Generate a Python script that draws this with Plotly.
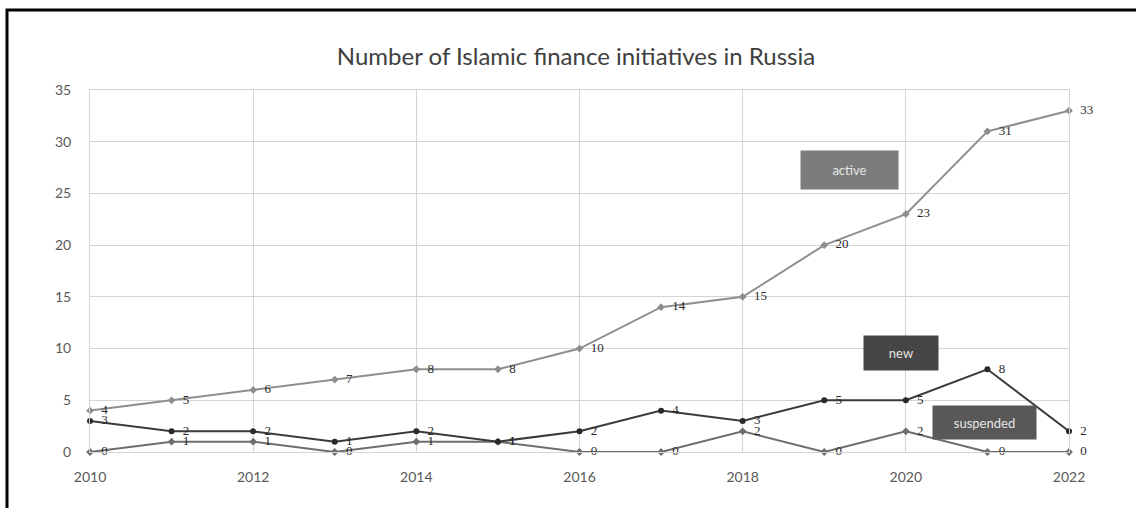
import plotly.graph_objects as go

years = list(range(2010, 2023))
active = [4, 5, 6, 7, 8, 8, 10, 14, 15, 20, 23, 31, 33]
new = [3, 2, 2, 1, 2, 1, 2, 4, 3, 5, 5, 8, 2]
suspended = [0, 1, 1, 0, 1, 1, 0, 0, 2, 0, 2, 0, 0]
y_ticks = [0, 5, 10, 15, 20, 25, 30, 35]
x_ticks = [2010, 2012, 2014, 2016, 2018, 2020, 2022]

label_font = dict(family="Liberation Serif", size=13, color="#2a2a2a")

def lbl(vals):
    return ["  " + str(v) for v in vals]

fig = go.Figure()
fig.add_trace(go.Scatter(
    x=years, y=active, mode="lines+markers+text", name="active",
    line=dict(color="#8e8e8e", width=2),
    marker=dict(symbol="diamond", size=6, color="#8e8e8e"),
    text=lbl(active), textposition="middle right",
    textfont=label_font, cliponaxis=False))
fig.add_trace(go.Scatter(
    x=years, y=suspended, mode="lines+markers+text", name="suspended",
    line=dict(color="#6e6e6e", width=2),
    marker=dict(symbol="diamond", size=6, color="#6e6e6e"),
    text=lbl(suspended), textposition="middle right",
    textfont=label_font, cliponaxis=False))
fig.add_trace(go.Scatter(
    x=years, y=new, mode="lines+markers+text", name="new",
    line=dict(color="#3a3a3a", width=2),
    marker=dict(symbol="circle", size=6, color="#2a2a2a"),
    text=lbl(new), textposition="middle right",
    textfont=label_font, cliponaxis=False))

axis_font = dict(family="Lato", size=14, color="#595959")

fig.update_layout(
    width=1136, height=508,
    margin=dict(l=90, r=67, t=90, b=56),
    paper_bgcolor="white", plot_bgcolor="white",
    showlegend=False,
    title=dict(text="Number of Islamic finance initiatives in Russia",
               x=(576 - 90) / 979, xanchor="center", xref="paper",
               y=1 - 57 / 508, yanchor="middle",
               font=dict(family="Lato", size=24, color="#404040")),
    xaxis=dict(range=[2010, 2022], tickvals=x_ticks, showgrid=True,
               gridcolor="#d4d4d4", gridwidth=1, zeroline=False,
               showline=True, linecolor="#d4d4d4", mirror=True,
               tickfont=axis_font, ticks="", ticklabelstandoff=12),
    yaxis=dict(range=[0, 35], tickvals=y_ticks, showgrid=True,
               gridcolor="#d4d4d4", gridwidth=1, zeroline=False,
               showline=True, linecolor="#d4d4d4", mirror=True,
               tickfont=axis_font, ticks="", ticklabelstandoff=15),
)

box_font = dict(family="Lato", size=13, color="#e6e6e6")
for txt, cx, cy, w, h, col in [
    ("active", 849.5, 170, 95, 36, "#7c7c7c"),
    ("new", 901, 353, 72, 32, "#454545"),
    ("suspended", 984.5, 422.5, 101, 31, "#585858"),
]:
    fig.add_annotation(text=txt, xref="paper", yref="paper",
                       x=(cx - 90) / 979, y=(452 - cy) / 362,
                       xanchor="center", yanchor="middle",
                       showarrow=False, width=w, height=h, bgcolor=col,
                       font=box_font, align="center", valign="middle")

# outer frame
fig.add_shape(type="rect", xref="paper", yref="paper",
              x0=(7 - 90) / 979, x1=(1150 - 90) / 979,
              y0=(452 - 520) / 362, y1=(452 - 10) / 362,
              line=dict(color="black", width=3), fillcolor="rgba(0,0,0,0)",
              layer="above")

fig.write_html("out.html")
